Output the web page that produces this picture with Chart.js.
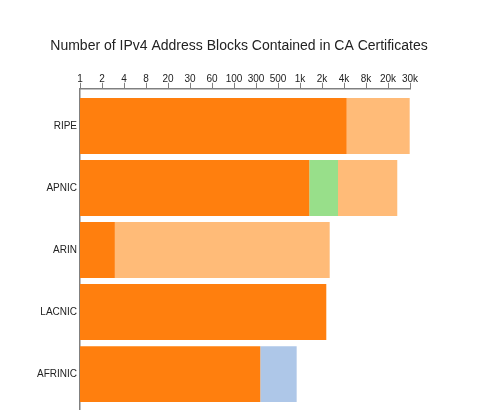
<!DOCTYPE html>
<html>
<head>
<meta charset="utf-8">
<script src="https://cdn.jsdelivr.net/npm/chart.js@4"></script>
<style>
  body { margin: 0; background: #fff; }
  #wrap { position: relative; width: 500px; height: 410px; }
</style>
</head>
<body>
<div id="wrap"><canvas id="chart"></canvas></div>
<script>
const categories = ["RIPE", "APNIC", "ARIN", "LACNIC", "AFRINIC"];

// blocks per registry, split in four kinds (stacked left to right)
const kindA = [4460, 1372, 3, 2345, 293];
const kindB = [null, 2020, null, null, null];
const kindC = [null, null, null, null, 629];
const kindD = [27990, 18550, 2607, null, null];

// log2 axis, labels formatted to one significant digit
const tickValues = [1, 2, 4, 8, 16, 32, 64, 128, 256, 512, 1024, 2048, 4096, 8192, 16384, 32768];
const tickLabels = ["1", "2", "4", "8", "20", "30", "60", "100", "300", "500", "1k", "2k", "4k", "8k", "20k", "30k"];

const toPoints = (vals) => vals.map((v, i) => ({ x: v, y: i }));
const axisGrey = "#808080";
const font = { family: "'Liberation Sans', Arial, sans-serif", size: 10 };

new Chart(document.getElementById("chart"), {
  type: "bar",
  data: {
    datasets: [
      { label: "A", data: toPoints(kindA), backgroundColor: "#ff7f0e" },
      { label: "B", data: toPoints(kindB), backgroundColor: "#98df8a" },
      { label: "C", data: toPoints(kindC), backgroundColor: "#aec7e8" },
      { label: "D", data: toPoints(kindD), backgroundColor: "#ffbb78" },
    ],
  },
  options: {
    indexAxis: "y",
    responsive: true,
    maintainAspectRatio: false,
    animation: false,
    categoryPercentage: 1,
    barPercentage: 0.9,
    borderWidth: 0,
    layout: { padding: { left: 10, right: 32, top: 0, bottom: 0 } },
    scales: {
      x: {
        type: "logarithmic",
        position: "top",
        stacked: true,
        min: 1,
        max: 32768,
        afterBuildTicks: (scale) => {
          scale.ticks = tickValues.map((v) => ({ value: v }));
        },
        afterFit: (scale) => { scale.height = 20; },
        grid: { drawOnChartArea: false, tickLength: 6, color: axisGrey },
        border: { color: axisGrey, width: 1.5 },
        ticks: {
          autoSkip: false,
          maxRotation: 0,
          padding: -2,
          color: "#222",
          font: font,
          callback: (v) => tickLabels[tickValues.indexOf(v)],
        },
      },
      y: {
        type: "linear",
        stacked: true,
        reverse: true,
        offset: false,
        min: -0.6,
        max: 4.58,
        afterBuildTicks: (scale) => {
          scale.ticks = categories.map((c, i) => ({ value: i }));
        },
        afterFit: (scale) => {
          scale.width = 70;
          scale.paddingTop = 0;
          scale.paddingBottom = 0;
        },
        grid: { display: false, drawTicks: false },
        border: { display: true, color: axisGrey, width: 1.5 },
        ticks: {
          padding: 3,
          color: "#222",
          font: font,
          callback: (v) => categories[v],
        },
      },
      // empty spacer on the right so the title centre matches
      spacer: {
        type: "linear",
        position: "right",
        grid: { display: false },
        border: { display: false },
        ticks: { display: false },
        afterFit: (scale) => { scale.width = 58; },
      },
    },
    plugins: {
      legend: { display: false },
      tooltip: { enabled: false },
      title: {
        display: true,
        text: "Number of IPv4 Address Blocks Contained in CA Certificates",
        color: "#222",
        font: { family: "'Liberation Sans', Arial, sans-serif", size: 14, weight: "normal" },
        padding: { top: 38, bottom: 14 },
      },
    },
  },
});
</script>
</body>
</html>
